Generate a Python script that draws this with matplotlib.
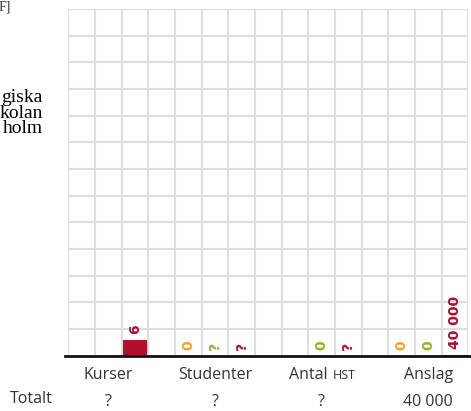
import matplotlib.pyplot as plt

# Data
categories = ['Kurser', 'Studenter', 'Antal', 'Anslag']
totals = ['?', '?', '?', '40 000']
# per category: label shown for orange / green / red column (None = empty)
orange_lbl = [None, '0', None, '0']
green_lbl = [None, '?', '0', '0']
red_lbl = ['6', '?', '?', '40 000']
red_val = [6, 0, 0, 40000]
units_per_cell = [10, 10, 10, 1000000]

orange = '#f3a320'
green = '#8fb524'
red = '#b20e2d'
txt = '#333333'

fig = plt.figure(figsize=(4.71, 4.11), dpi=100)
W, H = 471, 411
ax = fig.add_axes([68.3 / W, (H - 355.7) / H, 400 / W, 346.7 / H])
ax.set_xlim(0, 15)
ax.set_ylim(0, 13)

# grid
for x in range(16):
    ax.axvline(x, color='#dedede', lw=1.5, zorder=0)
for y in range(1, 14):
    ax.axhline(y, color='#dedede', lw=1.5, zorder=0)
for s in ax.spines.values():
    s.set_visible(False)
ax.set_xticks([])
ax.set_yticks([])

# baseline
fig.add_artist(plt.Line2D([65 / W, 1], [(H - 355.7) / H] * 2, color='#111111', lw=2))

lab_kw = dict(rotation=90, ha='center', va='bottom', fontsize=10,
              fontweight='bold', textcoords='offset points')
for i in range(4):
    x0 = i * 4
    h = red_val[i] / units_per_cell[i]
    if h > 0:
        ax.bar(x0 + 2.5, h, width=0.92, color=red, zorder=2)
    for col, lbl, c in [(0, orange_lbl[i], orange), (1, green_lbl[i], green),
                        (2, red_lbl[i], red)]:
        if lbl is None:
            continue
        base = h if col == 2 else 0
        ax.annotate(lbl, (x0 + col + 0.5, base), xytext=(0, 4), color=c, **lab_kw)

# category labels
fs = 11.5
for i, name in enumerate(categories):
    xc = i * 4 + 1.5
    if name == 'Antal':
        ax.text(9.72, -0.88, 'Antal', ha='right', va='baseline', fontsize=fs,
                color=txt, family='Open Sans')
        ax.text(9.9, -0.88, 'HST', ha='left', va='baseline', fontsize=9,
                color=txt, family='Open Sans')
    else:
        ax.text(xc, -0.72, name, ha='center', va='center', fontsize=fs,
                color=txt, family='Open Sans')
    ax.text(xc, -1.75, totals[i], ha='center', va='center', fontsize=fs,
            color=txt, family='Open Sans')

fig.text(10 / W, 1 - 399 / H, 'Totalt', ha='left', va='center', fontsize=fs,
         color=txt, family='Open Sans')

# texts partly outside the crop at the left edge (visible parts only)
fig.text(43 / W, 1 - 113 / H, 'giska\nkolan\nholm', ha='right',
         va='center', fontsize=14, family='Liberation Serif', linespacing=0.92,
         multialignment='right')
fig.text(11 / W, 1 - 7 / H, 'F]', ha='right', va='center', fontsize=10,
         color=txt, family='Liberation Serif')

plt.savefig('out.png', dpi=100)
